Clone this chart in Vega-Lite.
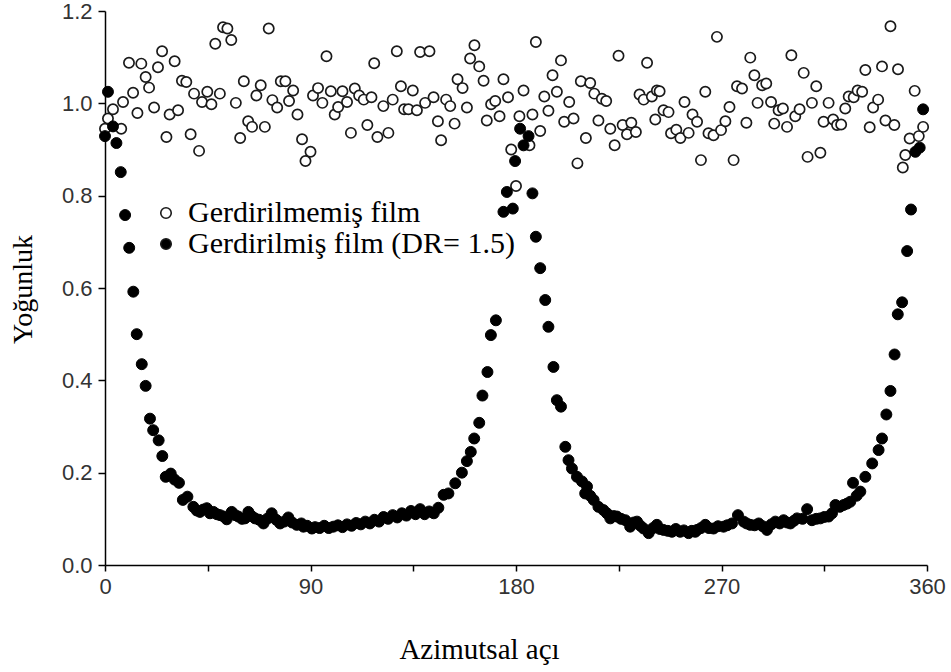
{
  "$schema": "https://vega.github.io/schema/vega-lite/v6.json",
  "width": 822,
  "height": 554,
  "autosize": {"type": "none"},
  "padding": {"left": 105, "top": 11, "right": 24, "bottom": 107},
  "background": "white",
  "config": {"view": {"stroke": null}, "axis": {"grid": false}},
  "datasets": {
    "open": [
      [0,0.945],[1.3,0.967],[3.5,0.987],[7.1,0.945],[7.9,1.003],[10.5,1.088],[12.3,1.023],[14.2,0.979],[15.9,1.086],[17.8,1.057],
      [19.3,1.034],[21.5,0.991],[23.2,1.078],[25,1.113],[26.9,0.927],[28.3,0.976],[30.5,1.091],[32,0.985],[33.7,1.049],[35.6,1.046],
      [37.5,0.933],[39,1.021],[41.2,0.897],[42.5,1.003],[44.8,1.025],[46.6,0.998],[48.3,1.129],[50.3,1.021],[51.7,1.165],[53.6,1.162],
      [55.3,1.137],[57.3,1.001],[59.2,0.925],[60.8,1.048],[62.7,0.961],[64.4,0.949],[66.3,1.017],[68.2,1.039],[70,0.949],[71.7,1.162],
      [73.3,1.007],[75.4,0.991],[77,1.048],[79,1.048],[80.6,1.005],[82.4,1.028],[84.3,0.976],[86.3,0.922],[87.8,0.875],[90,0.895],
      [91.1,1.017],[93.3,1.033],[95.2,1.001],[97,1.102],[98.9,1.026],[100.6,0.976],[102.1,0.992],[104,1.026],[106,1.003],[107.7,0.936],
      [109.4,1.032],[111.3,1.017],[113.3,1.008],[114.9,0.953],[116.7,1.013],[117.9,1.087],[119.3,0.927],[121.9,0.994],[124.1,0.936],[126,1.008],
      [127.8,1.113],[129.6,1.037],[131,0.987],[132.9,0.987],[134.8,1.028],[136.6,0.985],[138,1.111],[140.2,1.001],[142.1,1.113],[143.9,1.013],
      [145.8,0.961],[147.2,0.92],[149.4,1.008],[151.2,0.994],[153.1,0.956],[154.4,1.052],[156.6,1.033],[158.5,0.991],[159.9,1.097],[161.8,1.126],
      [163.9,1.08],[165.8,1.049],[167.2,0.963],[169.1,0.998],[170.9,1.005],[172.8,0.972],[174.5,1.052],[176.5,1.013],[177.9,0.9],[180,0.821],
      [181.5,0.972],[183.3,1.028],[185.9,0.909],[187.2,0.976],[188.7,1.133],[190.6,0.94],[192.4,1.015],[194.2,0.984],[196,1.061],[197.9,1.025],
      [199.7,1.093],[201.1,0.96],[203.3,1.003],[205.2,0.967],[206.9,0.87],[208.4,1.048],[210.6,0.925],[212.5,1.044],[214.3,1.021],[216.1,0.963],
      [217.6,1.01],[219.5,1.005],[221.3,0.945],[223.2,0.909],[224.9,1.103],[226.7,0.953],[228.6,0.933],[230.5,0.958],[232.5,0.938],[234.1,1.019],
      [235.9,1.008],[237.4,1.088],[239.5,1.015],[241,0.965],[241.7,1.028],[242.9,1.026],[244.6,0.985],[246.8,0.981],[247.9,0.935],[250.2,0.943],
      [252,0.925],[253.8,1.003],[255.6,0.936],[257.3,0.976],[259.3,0.96],[261,0.877],[262.9,1.025],[264.3,0.935],[266.5,0.931],[268,1.144],
      [269.8,0.942],[271.7,0.961],[273.5,0.992],[275.3,0.877],[276.8,1.037],[279,1.032],[280.9,0.958],[282.6,1.099],[284.4,1.061],[285.8,1.001],
      [287.8,1.039],[289.6,1.043],[291.7,1.003],[293.1,0.956],[295,0.985],[296.9,0.989],[298.7,0.949],[300.6,1.104],[302.3,0.972],[304.2,0.987],
      [306,1.066],[307.7,0.884],[309.6,1.001],[311.5,1.037],[313.3,0.893],[314.7,0.96],[316.9,1.001],[318.9,0.965],[320.6,0.953],[322.4,0.954],
      [324.2,0.989],[325.7,1.015],[327.9,1.013],[329.6,1.028],[331.6,1.025],[333,1.072],[334.9,0.948],[336.4,0.991],[338.6,1.008],[340.3,1.08],
      [341.8,0.963],[344,1.167],[345.7,0.953],[347.3,1.074],[349.4,0.861],[350.5,0.888],[352.4,0.924],[354.6,1.027],[356.4,0.929],[358.3,0.949]
    ],
    "filled": [
      [0,0.929],[1.3,1.025],[3.5,0.95],[5,0.914],[6.9,0.851],[8.8,0.758],[10.6,0.687],[12.4,0.592],[13.9,0.5],[16.1,0.435],
      [17.8,0.388],[19.7,0.317],[21.1,0.292],[23.5,0.27],[25.1,0.236],[26.6,0.191],[28.8,0.198],[30.5,0.185],[32.4,0.178],[34.1,0.141],
      [36.1,0.148],[38.7,0.126],[40.2,0.118],[41.6,0.115],[43,0.12],[44.6,0.123],[46,0.112],[47.5,0.115],[49,0.11],[50.4,0.108],
      [52,0.105],[53.3,0.099],[55.5,0.115],[57,0.108],[58.4,0.105],[60,0.1],[61.3,0.101],[62.8,0.115],[64.2,0.106],[65.7,0.101],
      [67.5,0.098],[69.4,0.09],[71,0.1],[73,0.112],[75,0.098],[76.7,0.09],[78.5,0.094],[80.3,0.103],[82,0.092],[84,0.087],
      [86,0.09],[86.9,0.083],[88.5,0.085],[90.6,0.079],[92,0.082],[94,0.08],[96,0.085],[98,0.08],[100,0.083],[102,0.086],
      [104,0.082],[106,0.088],[108,0.085],[110,0.091],[112,0.088],[114,0.094],[116,0.09],[118,0.098],[120,0.094],[122,0.104],
      [124,0.1],[126,0.108],[128,0.103],[130,0.112],[132,0.107],[134,0.117],[136,0.11],[138,0.121],[140,0.11],[142,0.116],
      [144,0.112],[146,0.124],[148.3,0.152],[150.4,0.155],[153.4,0.177],[156.3,0.2],[158.5,0.225],[160.2,0.245],[161.7,0.274],[163.9,0.308],
      [165.3,0.367],[167.5,0.418],[169,0.498],[171.2,0.53],[174.5,0.765],[176,0.808],[178.6,0.772],[179.6,0.875],[181.8,0.945],[183.3,0.909],
      [185.5,0.929],[187.2,0.805],[188.7,0.711],[190.6,0.643],[192.8,0.574],[194.2,0.516],[196.4,0.429],[197.9,0.357],[199.7,0.343],[201.6,0.256],
      [203,0.227],[204.5,0.209],[206.7,0.191],[208.9,0.181],[210.3,0.155],[211.1,0.17],[212.5,0.15],[214,0.141],[216.1,0.126],[218.3,0.119],
      [219.8,0.112],[221.3,0.101],[222.8,0.106],[224.2,0.105],[226,0.1],[227.9,0.097],[230,0.083],[231.5,0.092],[233,0.094],[234.5,0.085],
      [235.9,0.079],[238.1,0.069],[240,0.08],[241.7,0.087],[243,0.078],[244.6,0.076],[246.5,0.074],[248.3,0.072],[250,0.078],[251.9,0.072],
      [253.5,0.075],[255.6,0.069],[257,0.074],[258.5,0.072],[259.3,0.076],[261,0.08],[262.9,0.087],[264.5,0.08],[266.5,0.079],[268.5,0.084],
      [270.9,0.083],[272.5,0.086],[274.6,0.09],[277.2,0.108],[279.7,0.094],[281,0.09],[282.6,0.087],[284.5,0.086],[286.3,0.09],[288,0.084],
      [289.9,0.076],[291.8,0.088],[293.6,0.094],[295.5,0.09],[297.2,0.097],[298.8,0.092],[300.2,0.09],[301.8,0.096],[303.1,0.101],[305.5,0.1],
      [307.5,0.121],[309.6,0.097],[311.5,0.1],[313.3,0.101],[315,0.104],[316.9,0.105],[318.4,0.112],[319.9,0.13],[321.8,0.126],[323.5,0.13],
      [325,0.133],[326.4,0.137],[327.6,0.178],[329.2,0.15],[330.8,0.159],[333,0.191],[336,0.22],[338.8,0.249],[340.3,0.274],[342.2,0.326],
      [344,0.377],[345.8,0.456],[347.2,0.543],[349.1,0.569],[351.3,0.68],[353,0.77],[354.9,0.895],[356.8,0.904],[358.3,0.987]
    ]
  },
  "layer": [
    {
      "data": {"name": "open"},
      "transform": [
        {"calculate": "datum[0]", "as": "aci"},
        {"calculate": "datum[1]", "as": "yog"},
        {"calculate": "'Gerdirilmemiş film'", "as": "seri"}
      ],
      "mark": {"type": "point", "shape": "circle", "filled": true, "size": 105, "stroke": "#1a1a1a", "strokeWidth": 1.7, "opacity": 1},
      "encoding": {
        "x": {"field": "aci", "type": "quantitative"},
        "y": {"field": "yog", "type": "quantitative"},
        "fill": {"field": "seri", "type": "nominal"}
      }
    },
    {
      "data": {"name": "filled"},
      "transform": [
        {"calculate": "datum[0]", "as": "aci"},
        {"calculate": "datum[1]", "as": "yog"},
        {"calculate": "'Gerdirilmiş film (DR= 1.5)'", "as": "seri"}
      ],
      "mark": {"type": "point", "shape": "circle", "filled": true, "size": 120, "stroke": "black", "strokeWidth": 1, "opacity": 1},
      "encoding": {
        "x": {"field": "aci", "type": "quantitative"},
        "y": {"field": "yog", "type": "quantitative"},
        "fill": {"field": "seri", "type": "nominal"}
      }
    }
  ],
  "resolve": {"scale": {"fill": "shared"}},
  "encoding": {
    "x": {
      "field": "aci", "type": "quantitative",
      "scale": {"domain": [0, 360], "nice": false, "zero": true},
      "axis": {
        "values": [0, 45, 90, 135, 180, 225, 270, 315, 360],
        "labelExpr": "datum.value % 90 === 0 ? datum.label : ''",
        "title": "Azimutsal açı",
        "titleFont": "Liberation Serif", "titleFontSize": 29, "titleFontWeight": "normal", "titleColor": "black",
        "titleX": 374, "titleY": 93, "titleBaseline": "alphabetic", "titleAnchor": null, "titleAlign": "center",
        "labelFont": "Liberation Sans", "labelFontSize": 22, "labelColor": "#333333", "labelPadding": 5, "labelFlush": false,
        "tickSize": 6, "tickColor": "black", "tickWidth": 1.5,
        "domainColor": "black", "domainWidth": 1.5
      }
    },
    "y": {
      "field": "yog", "type": "quantitative",
      "scale": {"domain": [0, 1.2], "nice": false},
      "axis": {
        "values": [0, 0.2, 0.4, 0.6, 0.8, 1.0, 1.2],
        "format": ".1f",
        "title": "Yoğunluk",
        "titleFont": "Liberation Serif", "titleFontSize": 28, "titleFontWeight": "normal", "titleColor": "black",
        "titleAngle": -90, "titleX": -74, "titleY": 278, "titleBaseline": "alphabetic", "titleAlign": "center", "titleAnchor": null,
        "labelFont": "Liberation Sans", "labelFontSize": 22, "labelColor": "#333333", "labelPadding": 6, "labelFlush": false,
        "tickSize": 7, "tickColor": "black", "tickWidth": 1.5,
        "domainColor": "black", "domainWidth": 1.5
      }
    },
    "fill": {
      "field": "seri", "type": "nominal",
      "scale": {"domain": ["Gerdirilmemiş film", "Gerdirilmiş film (DR= 1.5)"], "range": ["white", "black"]},
      "legend": {
        "title": null, "orient": "none", "legendX": 46, "legendY": 187, "padding": 0,
        "symbolType": "circle", "symbolSize": 110, "symbolStrokeColor": "#1a1a1a", "symbolStrokeWidth": 1.6,
        "labelFont": "Liberation Serif", "labelFontSize": 30, "labelColor": "black", "labelOffset": 7,
        "rowPadding": 1, "labelLimit": 500
      }
    }
  }
}
